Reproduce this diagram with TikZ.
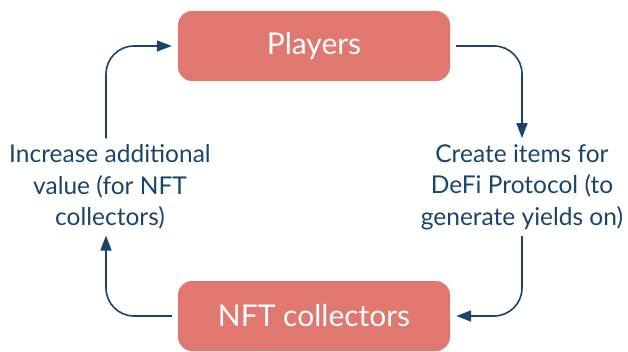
\documentclass[tikz,border=0pt]{standalone}
\usepackage{fontspec}
\setsansfont{Lato}
\usetikzlibrary{arrows.meta}
\definecolor{salmon}{HTML}{E07870}
\definecolor{navy}{HTML}{1B4469}
\tikzstyle{box}=[fill=salmon,rounded corners=14pt,minimum width=272pt,minimum height=70pt,text=white,font=\sffamily\fontsize{30}{34}\selectfont]
\tikzstyle{note}=[text=navy,align=center,inner sep=6pt,font=\sffamily\fontsize{24.5}{31.5}\selectfont]
\tikzstyle{flow}=[draw=navy,line width=1.6pt,rounded corners=28pt,-{Triangle[length=15pt,width=11pt]}]

\begin{document}
\begin{tikzpicture}[x=1pt,y=-1pt]
	\useasboundingbox (0,0) rectangle (628,352);
	%boxes
	\node[box] (players) at (314,46) {Players};
	\node[box] (collectors) at (314,316) {NFT collectors};
	%labels
	\node[note] (increase) at (110,187) {Increase additional\\value (for NFT\\collectors)};
	\node[note] (create) at (522,187) {Create items for\\DeFi Protocol (to\\generate yields on)};
	%arrows
	\draw[flow] ([xshift=6pt]players.east) -| (create.north);
	\draw[flow] ([xshift=-6pt]collectors.west) -| ([xshift=-4pt]increase.south);
	\draw[flow] ([xshift=-4pt]increase.north) |- ([xshift=-6pt]players.west);
	\draw[flow] (create.south) |- ([xshift=6pt]collectors.east);
\end{tikzpicture}
\end{document}
